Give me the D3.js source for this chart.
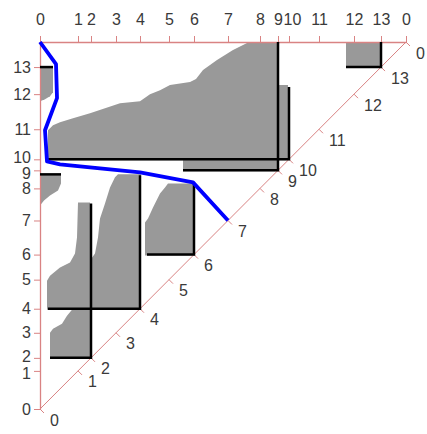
<!DOCTYPE html>
<html>
<head>
<meta charset="utf-8">
<script src="https://cdn.jsdelivr.net/npm/d3@7"></script>
<style>
  body { margin: 0; background: #fff; }
  svg text { font-family: "Liberation Sans", Arial, sans-serif; }
</style>
</head>
<body>
<svg id="chart" width="427" height="434"></svg>
<script>
// level positions along each axis (units of the same scale for x and y)
const levelPos = [0, 38, 51, 76, 100, 129, 154, 188, 220, 238, 249, 279, 314, 341];
const levelLabels = ["0", "1", "2", "3", "4", "5", "6", "7", "8", "9", "10", "11", "12", "13"];
const axisEnd = 366;
const endLabel = "0";

// black hooks: horizontal from start to the level, vertical from the level up to end
const hookLevels = [2, 4, 6, 9, 10, 13];
const hookStarts = [10, 8, 107, 143, 7, 306];
const hookEnds = [205, 233, 225, 366, 321, 366];

// short black stubs leaving the left axis
const stubY = [341, 234];
const stubLen = [13, 21];

// gray regions, [x, y] in axis units
const grayBig = [[8,248],[8,278],[13,283],[20,286],[33,290],[50,295],[65,300],[80,305],[100,307],[110,314],[120,318],[130,323],[150,326],[156,329],[163,338],[177,348],[193,358],[207,365],[212,366],[238,366],[238,323],[248,323],[248,248],[238,248],[238,237],[143,237],[143,248]];
const grayTopLeft = [[0,340],[13,340],[13,316],[10,312],[5,309],[0,307]];
const grayMidLeft = [[0,234],[21,234],[21,225],[18,218],[10,213],[4,208],[0,203]];
const grayFour = [[7,99],[7,128],[10,133],[20,141],[30,146],[35,155],[37,171],[38,206],[50,206],[50,148],[55,155],[58,171],[60,190],[65,205],[70,221],[75,231],[78,234],[101,234],[101,99]];
const grayTwo = [[10,50],[50,50],[50,99],[32,99],[27,93],[22,85],[13,80],[10,76]];
const graySix = [[105,153],[154,153],[154,225],[128,225],[125,221],[120,215],[113,201],[108,190],[105,186]];
const grayCorner = [[306,341],[341,341],[341,366],[306,366]];
const grayRegions = [grayBig, grayTopLeft, grayMidLeft, grayFour, grayTwo, graySix, grayCorner];

// blue path
const blueX = [0, 16, 17, 5, 7, 20, 100, 153, 188];
const blueY = [366, 344, 310, 278, 247, 244, 236, 226, 188];

const svg = d3.select("#chart");
const x = d3.scaleLinear().domain([0, axisEnd]).range([40, 406]);
const y = d3.scaleLinear().domain([0, axisEnd]).range([409, 42]);

const axisColor = "#d98383",
  labelColor = "#3a3a3a",
  fontSize = 16;

// gray fills
const line = d3.line().x(d => x(d[0])).y(d => y(d[1]));
svg.append("g")
  .selectAll("path")
  .data(grayRegions)
  .join("path")
  .attr("d", d => line(d) + "Z")
  .attr("fill", "#999");

// axes
const allPos = levelPos.concat([axisEnd]);
const allLabels = levelLabels.concat([endLabel]);

const topAxis = svg.append("g")
  .attr("transform", `translate(0,${y(axisEnd)})`)
  .call(d3.axisTop(x).tickValues(allPos).tickFormat((d, i) => allLabels[i]).tickSize(6).tickSizeOuter(0).tickPadding(11));

const leftAxis = svg.append("g")
  .attr("transform", `translate(${x(0)},0)`)
  .call(d3.axisLeft(y).tickValues(levelPos).tickFormat((d, i) => levelLabels[i]).tickSize(6).tickSizeOuter(0).tickPadding(3));

[topAxis, leftAxis].forEach(g => {
  g.select(".domain").attr("stroke", axisColor).attr("stroke-width", 1.3);
  g.selectAll(".tick line").attr("stroke", axisColor);
  g.selectAll(".tick text")
    .attr("fill", labelColor)
    .attr("font-size", fontSize)
    .attr("font-family", "Liberation Sans, Arial, sans-serif");
});
// crowded labels get nudged apart a little
topAxis.selectAll(".tick text").filter((d, i) => i === 10).attr("dx", 3);
leftAxis.selectAll(".tick text").filter((d, i) => i === 9 || i === 1).attr("dy", "0.5em");
leftAxis.selectAll(".tick text").filter((d, i) => i === 10 || i === 2).attr("dy", "0.2em");

// diagonal axis
const diag = svg.append("g");
diag.append("line")
  .attr("x1", x(0)).attr("y1", y(0))
  .attr("x2", x(axisEnd)).attr("y2", y(axisEnd))
  .attr("stroke", axisColor)
  .attr("stroke-width", 1);
diag.selectAll("line.tick")
  .data(allPos)
  .join("line")
  .attr("class", "tick")
  .attr("x1", d => x(d)).attr("y1", d => y(d))
  .attr("x2", d => x(d) + 4).attr("y2", d => y(d) + 4)
  .attr("stroke", axisColor);
diag.selectAll("text")
  .data(allPos)
  .join("text")
  .attr("x", d => x(d) + 10)
  .attr("y", d => y(d) + 11)
  .attr("dy", "0.35em")
  .attr("fill", labelColor)
  .attr("font-size", fontSize)
  .text((d, i) => allLabels[i]);

// black hooks
const black = svg.append("g")
  .attr("stroke", "#000")
  .attr("stroke-width", 2.5)
  .attr("fill", "none");
hookLevels.forEach((lv, i) => {
  const p = levelPos[lv];
  black.append("path")
    .attr("d", line([[hookStarts[i], p], [p, p], [p, hookEnds[i]]]));
});
stubY.forEach((v, i) => {
  black.append("path")
    .attr("d", line([[0, v], [stubLen[i], v]]));
});

// blue path
svg.append("path")
  .attr("d", line(blueX.map((d, i) => [d, blueY[i]])))
  .attr("fill", "none")
  .attr("stroke", "#0000ff")
  .attr("stroke-width", 3.8)
  .attr("stroke-linejoin", "round");
</script>
</body>
</html>
